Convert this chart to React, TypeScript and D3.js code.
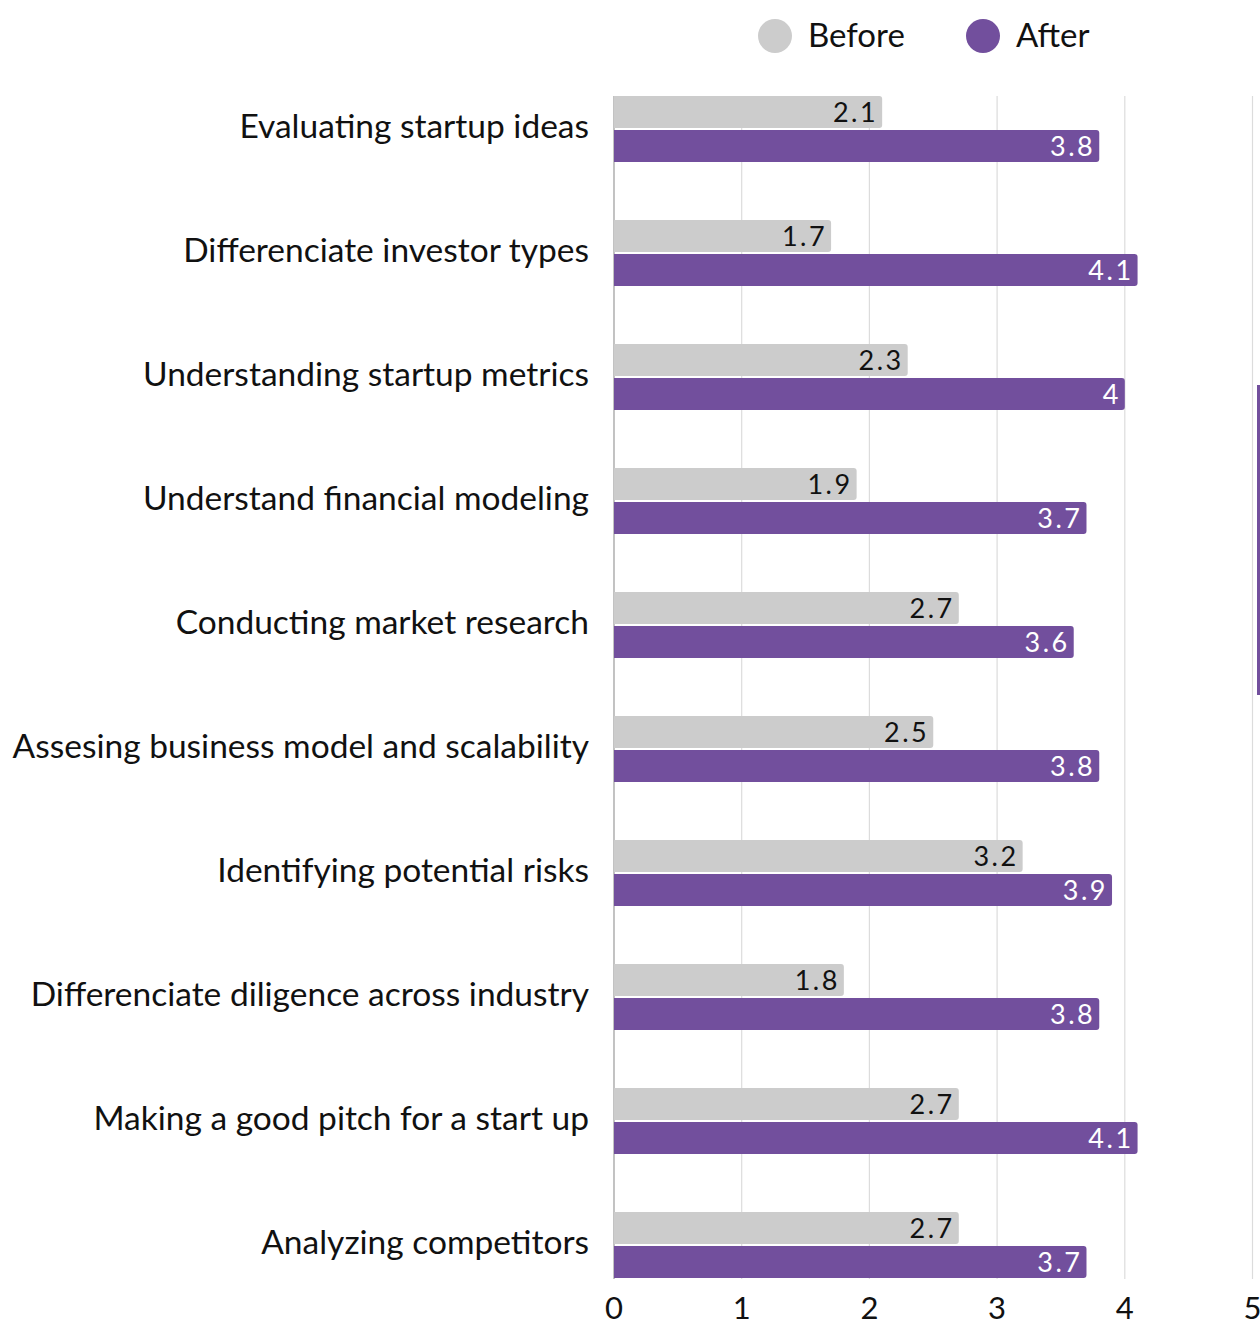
import React from "react";
import * as d3 from "d3";

const categories = [
  "Evaluating startup ideas",
  "Differenciate investor types",
  "Understanding startup metrics",
  "Understand financial modeling",
  "Conducting market research",
  "Assesing business model and scalability",
  "Identifying potential risks",
  "Differenciate diligence across industry",
  "Making a good pitch for a start up",
  "Analyzing competitors",
];
const beforeValues = [2.1, 1.7, 2.3, 1.9, 2.7, 2.5, 3.2, 1.8, 2.7, 2.7];
const afterValues = [3.8, 4.1, 4, 3.7, 3.6, 3.8, 3.9, 3.8, 4.1, 3.7];
const xTicks = [0, 1, 2, 3, 4, 5];
const seriesNames = ["Before", "After"];
const seriesColors = ["#cccccc", "#724f9d"];

const FONT = "Lato, 'Noto Sans', sans-serif";

function barPath(x0: number, y: number, w: number, h: number, r: number) {
  const rr = Math.min(r, w, h / 2);
  return `M${x0},${y}H${x0 + w - rr}Q${x0 + w},${y} ${x0 + w},${y + rr}V${y + h - rr}Q${x0 + w},${y + h} ${x0 + w - rr},${y + h}H${x0}Z`;
}

export default function App() {
  const W = 1260;
  const H = 1321;
  const x = d3.scaleLinear().domain([0, 5]).range([614, 1252.5]);
  const band = d3.scaleBand<string>().domain(categories).range([96, 1336]).paddingInner(0).paddingOuter(0);
  const barH = 32;
  const gap = 2;
  const plotTop = 96;
  const plotBottom = 1279;

  return (
    <svg width={W} height={H} style={{ position: "absolute", left: 0, top: 0, background: "#fff" }}>
      {/* gridlines */}
      {xTicks.map((t) => (
        <line key={t} x1={x(t)} x2={x(t)} y1={plotTop} y2={plotBottom}
          stroke={t === 0 ? "#9a9a9a" : "#dcdcdc"} strokeWidth={1.2} />
      ))}
      {/* bars */}
      {categories.map((c, i) => {
        const y0 = band(c)!;
        const bx0 = x(0);
        const vb = beforeValues[i];
        const va = afterValues[i];
        return (
          <g key={c}>
            <path d={barPath(bx0, y0, x(vb) - bx0, barH, 3)} fill={seriesColors[0]} />
            <path d={barPath(bx0, y0 + barH + gap, x(va) - bx0, barH, 3)} fill={seriesColors[1]} />
            <text x={x(vb) - 4} y={y0 + 26} textAnchor="end" letterSpacing={2.5}
              fontFamily={FONT} fontSize={27} fill="#111">{vb}</text>
            <text x={x(va) - 4} y={y0 + barH + gap + 26} textAnchor="end" letterSpacing={2.5}
              fontFamily={FONT} fontSize={27} fill="#fff">{va}</text>
            <text x={589} y={y0 + 42} textAnchor="end"
              fontFamily={FONT} fontSize={33.5} fill="#111">{c}</text>
          </g>
        );
      })}
      {/* axis tick labels */}
      {xTicks.map((t) => (
        <text key={t} x={x(t)} y={1319} textAnchor="middle"
          fontFamily={FONT} fontSize={31} fill="#111">{t}</text>
      ))}
      {/* legend */}
      {seriesNames.map((s, i) => {
        const cx = [775, 983][i];
        return (
          <g key={s}>
            <circle cx={cx} cy={36} r={17} fill={seriesColors[i]} />
            <text x={cx + 33} y={47} fontFamily={FONT} fontSize={33} fill="#111">{s}</text>
          </g>
        );
      })}
      {/* edge marker */}
      <rect x={1257} y={385} width={3} height={310} fill={seriesColors[1]} />
    </svg>
  );
}
